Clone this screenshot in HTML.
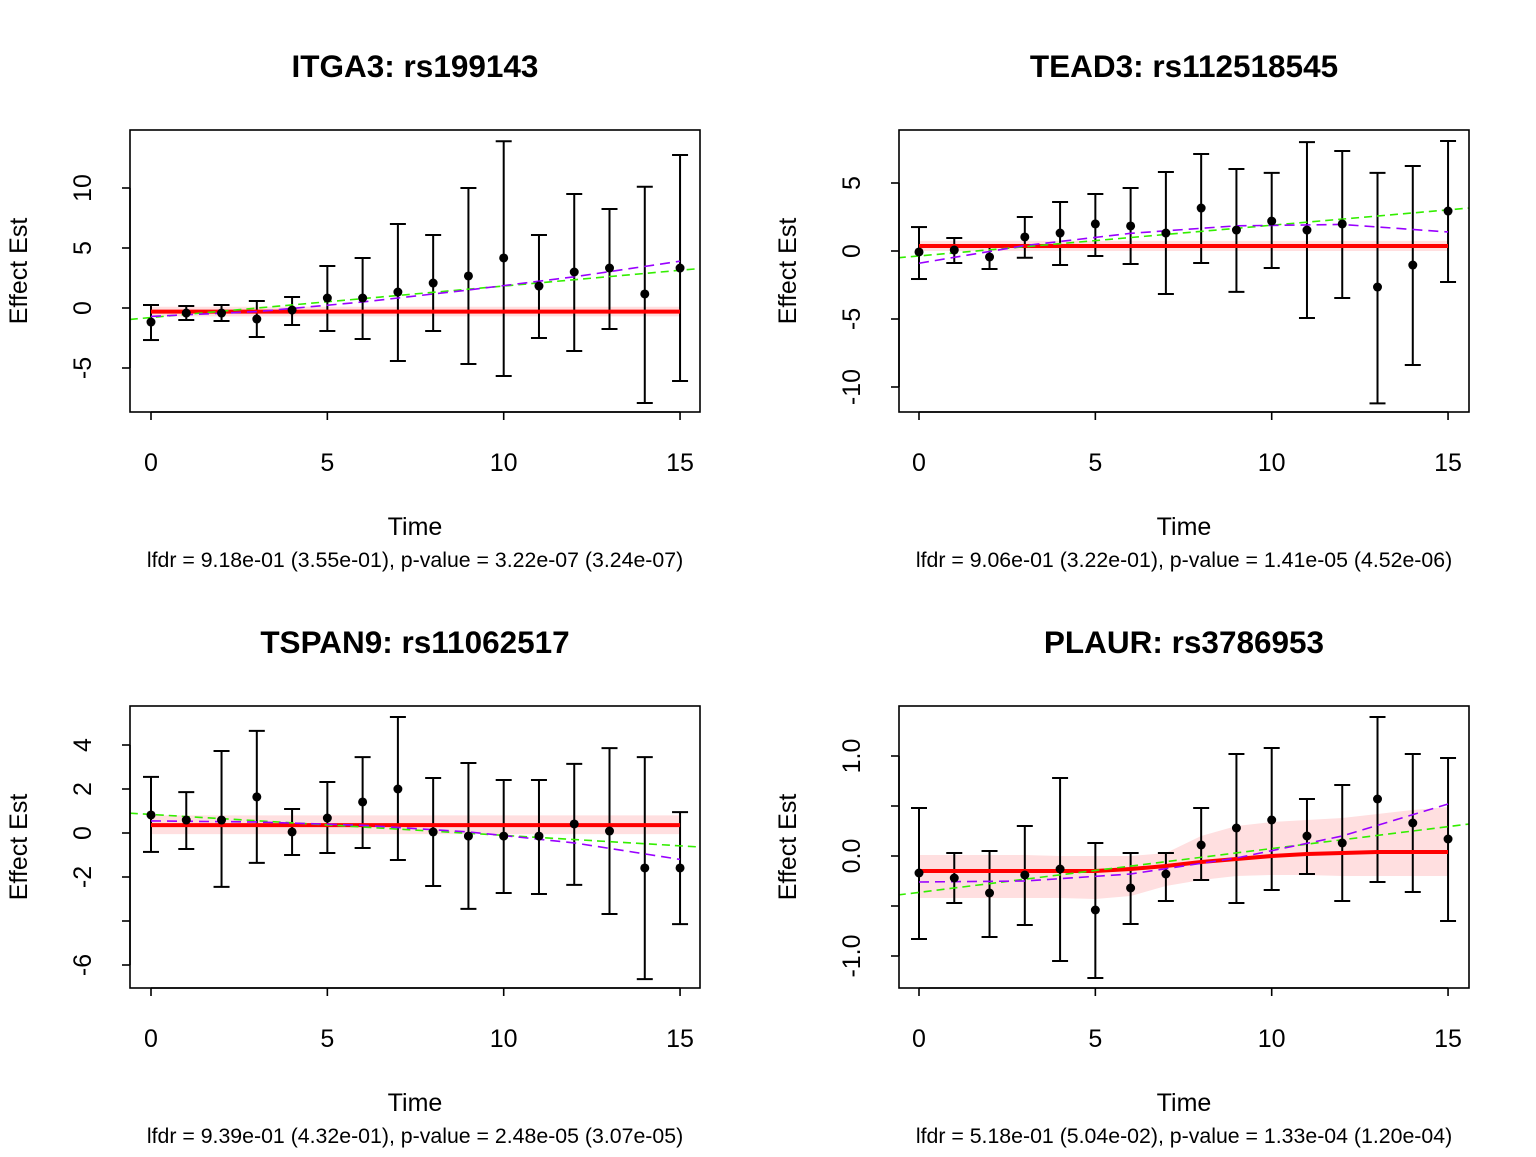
<!DOCTYPE html>
<html><head><meta charset="utf-8"><style>
body{margin:0;background:#fff}
svg text{font-family:"Liberation Sans",Arial,sans-serif;fill:#000}
</style></head><body>
<svg id="c" width="1536" height="1152" xmlns="http://www.w3.org/2000/svg"></svg>
<script>
const times=[0,1,2,3,4,5,6,7,8,9,10,11,12,13,14,15];
const xTicks=[0,5,10,15];
// Panel 1 ITGA3
const p1Est=[-1.17,-0.42,-0.42,-0.92,-0.17,0.83,0.83,1.33,2.08,2.67,4.17,1.83,3.0,3.33,1.17,3.33];
const p1Lo=[-2.67,-1.0,-1.08,-2.42,-1.42,-1.92,-2.58,-4.42,-1.92,-4.67,-5.67,-2.5,-3.58,-1.75,-7.92,-6.08];
const p1Hi=[0.25,0.17,0.25,0.58,0.92,3.5,4.17,7.0,6.08,10.0,13.9,6.08,9.5,8.25,10.1,12.75];
const p1Fit=[-0.3,-0.3,-0.3,-0.3,-0.3,-0.3,-0.3,-0.3,-0.3,-0.3,-0.3,-0.3,-0.3,-0.3,-0.3,-0.3];
const p1BandLo=[-0.7,-0.7,-0.7,-0.7,-0.7,-0.7,-0.7,-0.7,-0.7,-0.7,-0.7,-0.7,-0.7,-0.7,-0.7,-0.7];
const p1BandHi=[0.1,0.1,0.1,0.1,0.1,0.1,0.1,0.1,0.1,0.1,0.1,0.1,0.1,0.1,0.1,0.1];
const p1Green=[-0.95,3.3];
const p1PurpleT=[0,3,6,9,12,15];
const p1Purple=[-0.7,-0.3,0.5,1.5,2.6,3.9];
const p1YTicks=[-5,0,5,10];
// Panel 2 TEAD3
const p2Est=[-0.07,0.07,-0.44,1.03,1.32,1.99,1.84,1.32,3.16,1.54,2.2,1.54,1.99,-2.65,-1.03,2.94];
const p2Lo=[-2.06,-0.88,-1.32,-0.5,-1.03,-0.37,-0.96,-3.16,-0.88,-3.01,-1.25,-4.93,-3.46,-11.2,-8.38,-2.28];
const p2Hi=[1.76,0.96,0.44,2.5,3.6,4.19,4.63,5.81,7.13,6.03,5.74,8.01,7.35,5.74,6.25,8.09];
const p2Fit=[0.37,0.37,0.37,0.37,0.37,0.37,0.37,0.37,0.37,0.37,0.37,0.37,0.37,0.37,0.37,0.37];
const p2BandLo=[0.0,0.0,0.0,0.0,0.0,0.0,0.0,0.0,0.0,0.0,0.0,0.0,0.0,0.0,0.0,0.0];
const p2BandHi=[0.74,0.74,0.74,0.74,0.74,0.74,0.74,0.74,0.74,0.74,0.74,0.74,0.74,0.74,0.74,0.74];
const p2Green=[-0.5,3.16];
const p2PurpleT=[0,3,6,9,12,15];
const p2Purple=[-0.9,0.4,1.3,1.85,1.95,1.4];
const p2YTicks=[-10,-5,0,5];
// Panel 3 TSPAN9
const p3Est=[0.82,0.59,0.59,1.64,0.05,0.68,1.41,2.0,0.05,-0.14,-0.14,-0.14,0.41,0.09,-1.59,-1.59];
const p3Lo=[-0.86,-0.73,-2.45,-1.36,-1.0,-0.91,-0.68,-1.23,-2.41,-3.45,-2.73,-2.77,-2.36,-3.68,-6.64,-4.14];
const p3Hi=[2.55,1.86,3.73,4.64,1.09,2.32,3.45,5.27,2.5,3.18,2.41,2.41,3.14,3.86,3.45,0.95];
const p3Fit=[0.36,0.36,0.36,0.36,0.36,0.36,0.36,0.36,0.36,0.36,0.36,0.36,0.36,0.36,0.36,0.36];
const p3BandLo=[-0.05,-0.05,-0.05,-0.05,-0.05,-0.05,-0.05,-0.05,-0.05,-0.05,-0.05,-0.05,-0.05,-0.05,-0.05,-0.05];
const p3BandHi=[0.8,0.8,0.8,0.8,0.8,0.8,0.8,0.8,0.8,0.8,0.8,0.8,0.8,0.8,0.8,0.8];
const p3Green=[0.9,-0.64];
const p3PurpleT=[0,3,6,9,12,15];
const p3Purple=[0.55,0.5,0.35,0.05,-0.45,-1.2];
const p3YTicks=[-6,-4,-2,0,2,4];
// Panel 4 PLAUR
const p4Est=[-0.17,-0.22,-0.37,-0.19,-0.13,-0.54,-0.32,-0.18,0.11,0.28,0.36,0.2,0.13,0.57,0.33,0.17];
const p4Lo=[-0.83,-0.47,-0.81,-0.69,-1.05,-1.22,-0.68,-0.45,-0.24,-0.47,-0.34,-0.18,-0.45,-0.26,-0.36,-0.65];
const p4Hi=[0.48,0.03,0.05,0.3,0.78,0.13,0.03,0.03,0.48,1.02,1.08,0.57,0.71,1.39,1.02,0.98];
const p4Fit=[-0.15,-0.15,-0.15,-0.15,-0.15,-0.15,-0.13,-0.1,-0.06,-0.03,0.0,0.02,0.03,0.04,0.04,0.04];
const p4BandLo=[-0.42,-0.42,-0.42,-0.42,-0.42,-0.43,-0.4,-0.3,-0.24,-0.2,-0.19,-0.19,-0.2,-0.2,-0.2,-0.2];
const p4BandHi=[0.01,0.01,0.01,0.01,0.0,0.0,0.0,0.03,0.2,0.3,0.34,0.36,0.38,0.42,0.46,0.49];
const p4Green=[-0.39,0.32];
const p4PurpleT=[0,3,6,9,12,15];
const p4Purple=[-0.26,-0.25,-0.18,-0.02,0.2,0.52];
const p4YTicks=[-1,-0.5,0,0.5,1];

const NS="http://www.w3.org/2000/svg";
const svg=document.getElementById('c');
function mk(tag,attrs,parent,txt){const e=document.createElementNS(NS,tag);for(const k in attrs)e.setAttribute(k,attrs[k]);if(txt!==undefined)e.textContent=txt;(parent||svg).appendChild(e);return e;}

const panels=[
 {name:'itga3',title:'ITGA3: rs199143',sub:'lfdr = 9.18e-01 (3.55e-01), p-value = 3.22e-07 (3.24e-07)',bx:130,by:130,x0:151,y0:308,ys:12,est:p1Est,lo:p1Lo,hi:p1Hi,fit:p1Fit,bl:p1BandLo,bh:p1BandHi,green:p1Green,pt:p1PurpleT,pv:p1Purple,yt:p1YTicks,lab:v=>String(v)},
 {name:'tead3',title:'TEAD3: rs112518545',sub:'lfdr = 9.06e-01 (3.22e-01), p-value = 1.41e-05 (4.52e-06)',bx:899,by:130,x0:919,y0:251,ys:13.6,est:p2Est,lo:p2Lo,hi:p2Hi,fit:p2Fit,bl:p2BandLo,bh:p2BandHi,green:p2Green,pt:p2PurpleT,pv:p2Purple,yt:p2YTicks,lab:v=>String(v)},
 {name:'tspan9',title:'TSPAN9: rs11062517',sub:'lfdr = 9.39e-01 (4.32e-01), p-value = 2.48e-05 (3.07e-05)',bx:130,by:706,x0:151,y0:833,ys:22,est:p3Est,lo:p3Lo,hi:p3Hi,fit:p3Fit,bl:p3BandLo,bh:p3BandHi,green:p3Green,pt:p3PurpleT,pv:p3Purple,yt:p3YTicks,lab:v=>v===-4?'':String(v)},
 {name:'plaur',title:'PLAUR: rs3786953',sub:'lfdr = 5.18e-01 (5.04e-02), p-value = 1.33e-04 (1.20e-04)',bx:899,by:706,x0:919,y0:856,ys:100,est:p4Est,lo:p4Lo,hi:p4Hi,fit:p4Fit,bl:p4BandLo,bh:p4BandHi,green:p4Green,pt:p4PurpleT,pv:p4Purple,yt:p4YTicks,lab:v=>(v===-1||v===0||v===1)?v.toFixed(1):''}
];
const XS=35.27,BW=570,BH=282;
panels.forEach(p=>{
 const g=mk('g',{});
 
 
 const X=t=>p.x0+t*XS, Y=v=>p.y0-v*p.ys;
 const cx=p.bx+BW/2;
 const ti=mk('text',{x:cx,y:p.by-53,'text-anchor':'middle','font-size':31.5,'font-weight':'bold'},g,p.title);
 
 const clip='clip-'+p.name;
 const cp=mk('clipPath',{id:clip},g);mk('rect',{x:p.bx,y:p.by,width:BW,height:BH},cp);
 const inner=mk('g',{'clip-path':'url(#'+clip+')'},g);
 let d='';times.forEach((t,i)=>{d+=(i?'L':'M')+X(t)+','+Y(p.bh[i]);});
 for(let i=times.length-1;i>=0;i--)d+='L'+X(times[i])+','+Y(p.bl[i]);
 const band=mk('path',{d:d+'Z',fill:'#ffdfe0'},inner);
 
 times.forEach((t,i)=>{
  const eb=mk('g',{stroke:'#000','stroke-width':2},inner);
  
  mk('line',{x1:X(t),x2:X(t),y1:Y(p.lo[i]),y2:Y(p.hi[i])},eb);
  mk('line',{x1:X(t)-8,x2:X(t)+8,y1:Y(p.lo[i]),y2:Y(p.lo[i])},eb);
  mk('line',{x1:X(t)-8,x2:X(t)+8,y1:Y(p.hi[i]),y2:Y(p.hi[i])},eb);
 });
 let rd='';times.forEach((t,i)=>{rd+=(i?'L':'M')+X(t)+','+Y(p.fit[i]);});
 const red=mk('path',{d:rd,fill:'none',stroke:'#ff0000','stroke-width':4},inner);
 
 const gx0=X(-0.6),gx1=X(15.6);
 const gl=mk('line',{x1:gx0,x2:gx1,y1:Y(p.green[0]),y2:Y(p.green[1]),stroke:'#33ee00','stroke-width':1.6,'stroke-dasharray':'8,5'},inner);
 
 let pd='';p.pt.forEach((t,i)=>{pd+=(i?'L':'M')+X(t)+','+Y(p.pv[i]);});
 const pl=mk('path',{d:pd,fill:'none',stroke:'#9900ff','stroke-width':1.6,'stroke-dasharray':'10,6'},inner);
 
 times.forEach((t,i)=>{
  const c=mk('circle',{cx:X(t),cy:Y(p.est[i]),r:4.5,fill:'#000'},inner);
  
 });
 const box=mk('rect',{x:p.bx,y:p.by,width:BW,height:BH,fill:'none',stroke:'#000','stroke-width':1.6},g);
 
 const xa=mk('g',{},g);
 const bot=p.by+BH;
 mk('line',{x1:X(0),x2:X(15),y1:bot,y2:bot,stroke:'#000','stroke-width':1.6},xa);
 xTicks.forEach(t=>{mk('line',{x1:X(t),x2:X(t),y1:bot,y2:bot+8,stroke:'#000','stroke-width':1.6},xa);
  mk('text',{x:X(t),y:bot+59,'text-anchor':'middle','font-size':25},xa,String(t));});
 const ya=mk('g',{},g);
 const yl=p.yt[0],yh=p.yt[p.yt.length-1];
 mk('line',{x1:p.bx,x2:p.bx,y1:Y(yl),y2:Y(yh),stroke:'#000','stroke-width':1.6},ya);
 p.yt.forEach(v=>{mk('line',{x1:p.bx-8,x2:p.bx,y1:Y(v),y2:Y(v),stroke:'#000','stroke-width':1.6},ya);
  const l=p.lab(v);if(l)mk('text',{x:p.bx-47,y:Y(v),'text-anchor':'middle','font-size':25,transform:`rotate(-90 ${p.bx-47} ${Y(v)})`,'dominant-baseline':'central'},ya,l);});
 const yt=mk('text',{x:p.bx-111,y:p.by+BH/2,'text-anchor':'middle','font-size':25,transform:`rotate(-90 ${p.bx-111} ${p.by+BH/2})`,'dominant-baseline':'central'},g,'Effect Est');
 
 const xt=mk('text',{x:cx,y:bot+123,'text-anchor':'middle','font-size':25},g,'Time');
 
 const st=mk('text',{x:cx,y:bot+155,'text-anchor':'middle','font-size':21.3},g,p.sub);
 
});
</script>
</body></html>
